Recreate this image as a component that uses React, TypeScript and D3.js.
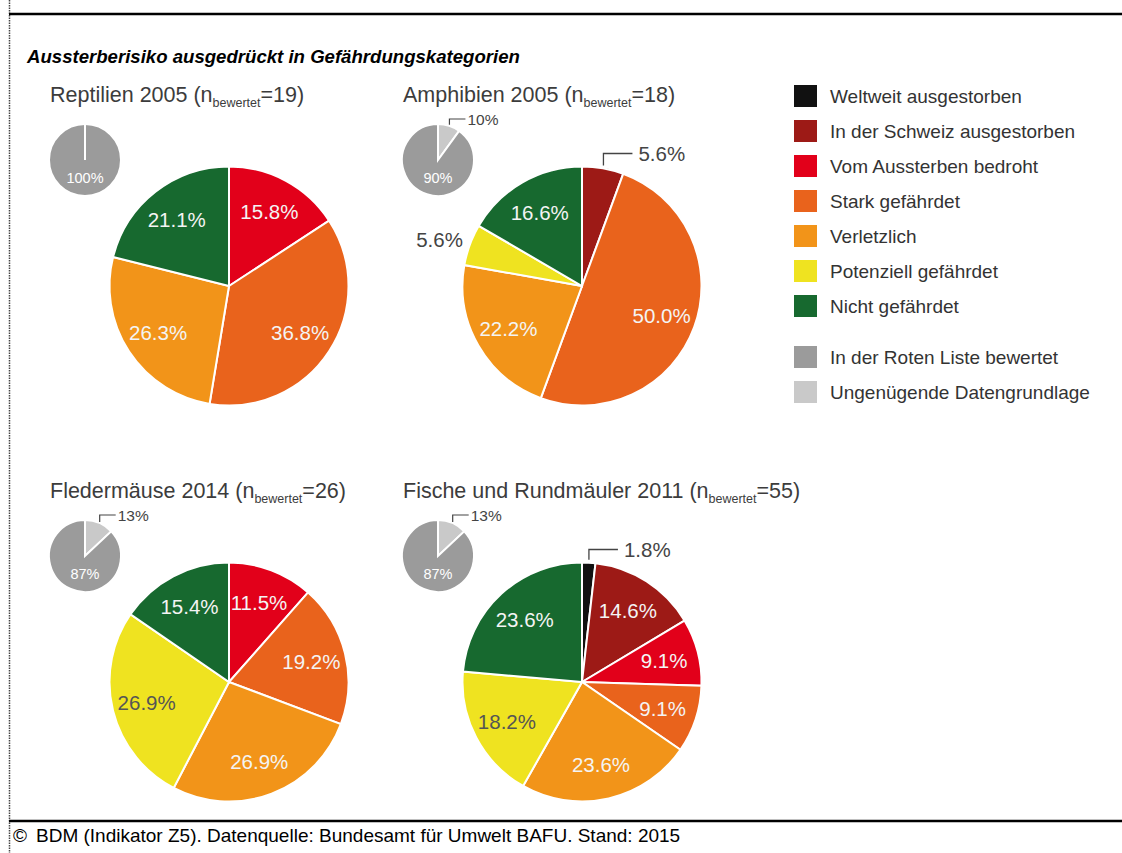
import React from "react";
import * as d3 from "d3";

const categories = [
  "Weltweit ausgestorben",
  "In der Schweiz ausgestorben",
  "Vom Aussterben bedroht",
  "Stark gefährdet",
  "Verletzlich",
  "Potenziell gefährdet",
  "Nicht gefährdet",
];
const categoryColors = ["#111111", "#9d1a16", "#e2001a", "#e9631c", "#f29419", "#efe320", "#17692f"];

const assessLabels = ["In der Roten Liste bewertet", "Ungenügende Datengrundlage"];
const assessColors = ["#9b9b9b", "#c9c9c9"];

const groupNames = ["Reptilien 2005", "Amphibien 2005", "Fledermäuse 2014", "Fische und Rundmäuler 2011"];
const groupN = [19, 18, 26, 55];

const reptilien = [0, 0, 15.8, 36.8, 26.3, 0, 21.1];
const amphibien = [0, 5.6, 0, 50.0, 22.2, 5.6, 16.6];
const fledermaeuse = [0, 0, 11.5, 19.2, 26.9, 26.9, 15.4];
const fische = [1.8, 14.6, 9.1, 9.1, 23.6, 18.2, 23.6];
const groupValues = [reptilien, amphibien, fledermaeuse, fische];

// share of species: [insufficient data, assessed]
const insufficientShare = [0, 10, 13, 13];
const assessedShare = [100, 90, 87, 87];

const W = 1122;
const H = 853;
const R = 119.5;
const RS = 36;
const colX = [229, 582];
const rowY = [286, 682];
const FONT = "Arial, 'Liberation Sans', Helvetica, sans-serif";

function fmt(v: number) {
  return v.toFixed(1) + "%";
}

type Item = { v: number; i: number };

function MainPie({ cx, cy, values }: { cx: number; cy: number; values: number[] }) {
  const items: Item[] = values.map((v, i) => ({ v, i }));
  const pie = d3.pie<Item>().sort(null).value((d) => d.v).startAngle(0).endAngle(2 * Math.PI);
  const arcs = pie(items);
  const arc = d3.arc<d3.PieArcDatum<Item>>().innerRadius(0).outerRadius(R);
  const labelArc = d3.arc<d3.PieArcDatum<Item>>().innerRadius(R * 0.71).outerRadius(R * 0.71);
  const outerArc = d3.arc<d3.PieArcDatum<Item>>().innerRadius(R * 1.27).outerRadius(R * 1.27);
  return (
    <g transform={`translate(${cx},${cy})`}>
      {arcs.filter((a) => a.data.v > 0).map((a) => (
        <path key={a.data.i} d={arc(a) || ""} fill={categoryColors[a.data.i]} stroke="#fff" strokeWidth={2} />
      ))}
      {arcs.filter((a) => a.data.v > 0).map((a) => {
        const mid = (a.startAngle + a.endAngle) / 2;
        const dark = a.data.i === 5;
        if (a.data.v >= 7) {
          const [x, y] = labelArc.centroid(a);
          return (
            <text key={a.data.i} x={x} y={y} textAnchor="middle" dominantBaseline="central"
              fontFamily={FONT} fontSize={20.5} fill={dark ? "#555" : "#f4f4f4"}>
              {fmt(a.data.v)}
            </text>
          );
        }
        if (mid < Math.PI / 6) {
          const x0 = (R + 3) * Math.sin(mid);
          const y0 = -(R + 3) * Math.cos(mid);
          const yTop = -R - 13;
          return (
            <g key={a.data.i}>
              <path d={`M${x0},${y0}V${yTop}H${x0 + 29}`} fill="none" stroke="#444" strokeWidth={1.3} />
              <text x={x0 + 35} y={yTop} dominantBaseline="central" fontFamily={FONT} fontSize={20.5} fill="#444">
                {fmt(a.data.v)}
              </text>
            </g>
          );
        }
        const [x, y] = outerArc.centroid(a);
        return (
          <text key={a.data.i} x={x} y={y} dy={6} textAnchor="middle" dominantBaseline="central"
            fontFamily={FONT} fontSize={20.5} fill="#444">
            {fmt(a.data.v)}
          </text>
        );
      })}
    </g>
  );
}

type SItem = { v: number; c: string };

function SmallPie({ cx, cy, insufficient, assessed }: { cx: number; cy: number; insufficient: number; assessed: number }) {
  const items: SItem[] = [
    { v: insufficient, c: assessColors[1] },
    { v: assessed, c: assessColors[0] },
  ];
  const pie = d3.pie<SItem>().sort(null).value((d) => d.v).startAngle(0).endAngle(2 * Math.PI);
  const arcs = pie(items);
  const arc = d3.arc<d3.PieArcDatum<SItem>>().innerRadius(0).outerRadius(RS);
  const ins = arcs[0];
  const mid = (ins.startAngle + ins.endAngle) / 2;
  const x0 = (RS + 1) * Math.sin(mid);
  const y0 = -(RS + 1) * Math.cos(mid);
  const yTop = -RS - 5;
  return (
    <g transform={`translate(${cx},${cy})`}>
      {arcs.filter((a) => a.data.v > 0).map((a, k) => (
        <path key={k} d={arc(a) || ""} fill={a.data.c} stroke="#fff" strokeWidth={2} />
      ))}
      <line x1={0} y1={0} x2={0} y2={-RS} stroke="#fff" strokeWidth={2} />
      <text x={0} y={RS * 0.5} textAnchor="middle" dominantBaseline="central" fontFamily={FONT} fontSize={14.5} fill="#fff">
        {assessed}%
      </text>
      {insufficient > 0 && (
        <g>
          <path d={`M${x0},${y0}V${yTop}H${x0 + 16}`} fill="none" stroke="#444" strokeWidth={1.2} />
          <text x={x0 + 18} y={yTop} dominantBaseline="central" fontFamily={FONT} fontSize={15.5} fill="#444">
            {insufficient}%
          </text>
        </g>
      )}
    </g>
  );
}

export default function App() {
  const legendRows = [
    ...categories.map((c, i) => ({ label: c, color: categoryColors[i], y: 96 + i * 35 })),
    ...assessLabels.map((c, i) => ({ label: c, color: assessColors[i], y: 357 + i * 35 })),
  ];
  return (
    <svg width={W} height={H} style={{ position: "absolute", left: 0, top: 0, background: "#fff" }}>
      <rect x={0} y={0} width={W} height={H} fill="#fff" />
      <line x1={9.5} y1={0} x2={9.5} y2={H} stroke="#444" strokeWidth={1.5} strokeDasharray="1.5,1" />
      <line x1={9} y1={14} x2={W} y2={14} stroke="#000" strokeWidth={2.5} />
      <line x1={9} y1={821} x2={W} y2={821} stroke="#000" strokeWidth={2.5} />
      <text x={27} y={63} fontFamily={FONT} fontSize={18.6} fontWeight="bold" fontStyle="italic" fill="#000">
        Aussterberisiko ausgedrückt in Gefährdungskategorien
      </text>

      {groupNames.map((name, g) => {
        const cx = colX[g % 2];
        const cy = rowY[Math.floor(g / 2)];
        return (
          <g key={name}>
            <text x={cx - 179} y={cy - 184} fontFamily={FONT} fontSize={21.5} fill="#3c3c3c">
              {name} (n
              <tspan fontSize={12.5} dy={5}>bewertet</tspan>
              <tspan dy={-5}>={groupN[g]})</tspan>
            </text>
            <SmallPie cx={cx - 144} cy={cy - 126} insufficient={insufficientShare[g]} assessed={assessedShare[g]} />
            <MainPie cx={cx} cy={cy} values={groupValues[g]} />
          </g>
        );
      })}

      {legendRows.map((r) => (
        <g key={r.label}>
          <rect x={794} y={r.y - 11} width={23} height={22} fill={r.color} />
          <text x={830} y={r.y} dominantBaseline="central" fontFamily={FONT} fontSize={19} fill="#333">
            {r.label}
          </text>
        </g>
      ))}

      <text y={842} fontFamily={FONT} fontSize={19} fill="#000">
        <tspan x={13}>©</tspan>
        <tspan x={36}>BDM (Indikator Z5). Datenquelle: Bundesamt für Umwelt BAFU. Stand: 2015</tspan>
      </text>
    </svg>
  );
}
